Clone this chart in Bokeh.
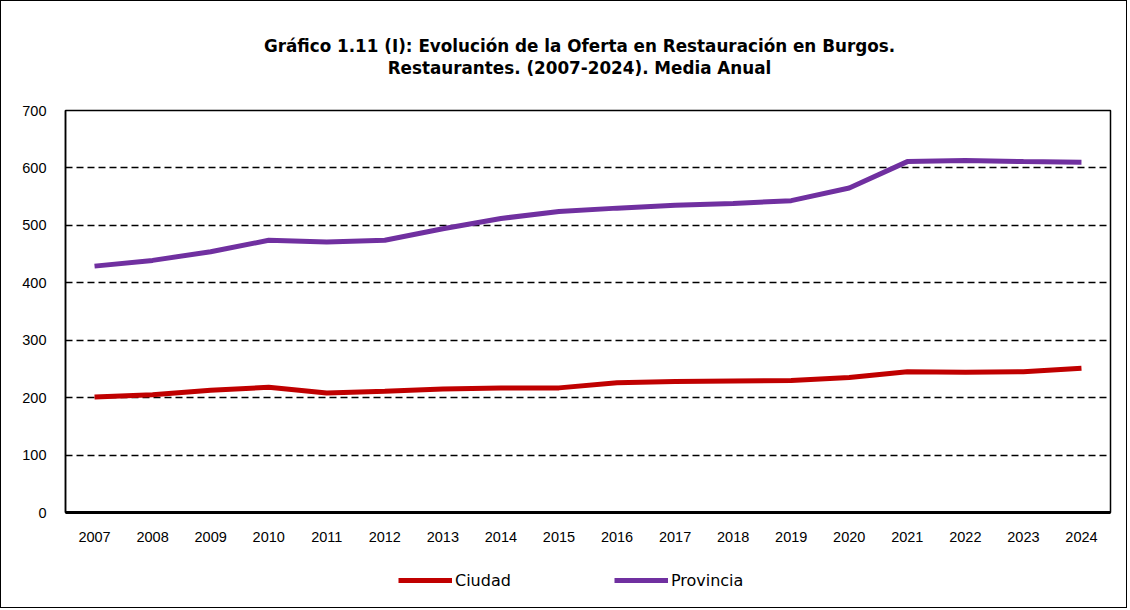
from bokeh.plotting import figure
from bokeh.layouts import column
from bokeh.models import Div, Legend, LegendItem, FixedTicker, Range1d
from bokeh.embed import file_html
from bokeh.resources import INLINE

years = [str(y) for y in range(2007, 2025)]
ciudad = [201, 205, 213, 218, 208, 211, 215, 217, 217, 226, 228, 229, 230, 235, 245, 244, 245, 251]
provincia = [429, 439, 454, 474, 471, 474, 494, 512, 524, 530, 535, 538, 543, 565, 611, 613, 611, 610]
y_ticks = [0, 100, 200, 300, 400, 500, 600, 700]
series_names = ["Ciudad", "Provincia"]
series_colors = ["#C00000", "#7030A0"]
title_line1 = "Gráfico 1.11 (I): Evolución de la Oferta en Restauración en Burgos."
title_line2 = "Restaurantes. (2007-2024). Media Anual"

W = 1125

title_div = Div(
    text=(f'<div style="width:{W}px;box-sizing:border-box;text-align:center;'
          f"font-family:'DejaVu Sans';font-weight:bold;font-size:16.8px;line-height:22px;"
          f'padding-top:34px;padding-left:32px;color:black;">'
          f'{title_line1}<br>{title_line2}</div>'),
    width=W, height=90, margin=0)

p = figure(x_range=years, y_range=Range1d(0, 700), width=W, height=462,
           output_backend="svg", toolbar_location=None, title=None,
           min_border_left=64, min_border_right=16, min_border_top=19, min_border_bottom=41)

r1 = p.line(years, ciudad, line_color=series_colors[0], line_width=5)
r2 = p.line(years, provincia, line_color=series_colors[1], line_width=5)

p.outline_line_color = "black"
p.outline_line_width = 1.5
p.xgrid.grid_line_color = None
p.ygrid.grid_line_color = "black"
p.ygrid.grid_line_dash = "7 4"
p.ygrid.grid_line_width = 1.5
p.yaxis.ticker = FixedTicker(ticks=y_ticks)

for ax in (p.xaxis[0], p.yaxis[0]):
    ax.major_tick_line_color = None
    ax.minor_tick_line_color = None
    ax.major_tick_out = 0
    ax.major_tick_in = 0
    ax.major_label_text_font = "Liberation Sans"
    ax.major_label_text_font_size = "14.5px"
    ax.major_label_text_color = "black"
p.xaxis.axis_line_width = 3
p.xaxis.axis_line_color = "black"
p.yaxis.axis_line_width = 1.5
p.yaxis.axis_line_color = "black"
p.xaxis.major_label_standoff = 19
p.yaxis.major_label_standoff = 19

# legend strip below the chart (its lines lie outside the visible y range)
p2 = figure(width=W, height=54, x_range=years, y_range=Range1d(1000, 1100),
            output_backend="svg", toolbar_location=None, title=None,
            x_axis_location=None, y_axis_location=None,
            min_border_left=64, min_border_right=16, min_border_top=0, min_border_bottom=0)
p2.outline_line_color = None
p2.xgrid.grid_line_color = None
p2.ygrid.grid_line_color = None
l1 = p2.line(years, ciudad, line_color=series_colors[0], line_width=5)
l2 = p2.line(years, provincia, line_color=series_colors[1], line_width=5)

legend = Legend(items=[LegendItem(label=series_names[0], renderers=[l1]),
                       LegendItem(label=series_names[1], renderers=[l2])],
                orientation="horizontal", location=(333, 17),
                glyph_width=54, label_standoff=3, spacing=103,
                label_text_font="DejaVu Sans", label_text_font_size="16px",
                label_text_color="black",
                border_line_color=None, background_fill_alpha=0, margin=0, padding=4)
p2.add_layout(legend, "center")

layout = column(title_div, p, p2, spacing=0, styles={"border": "1.5px solid black"})
open("out.html", "w").write(file_html(layout, INLINE))
